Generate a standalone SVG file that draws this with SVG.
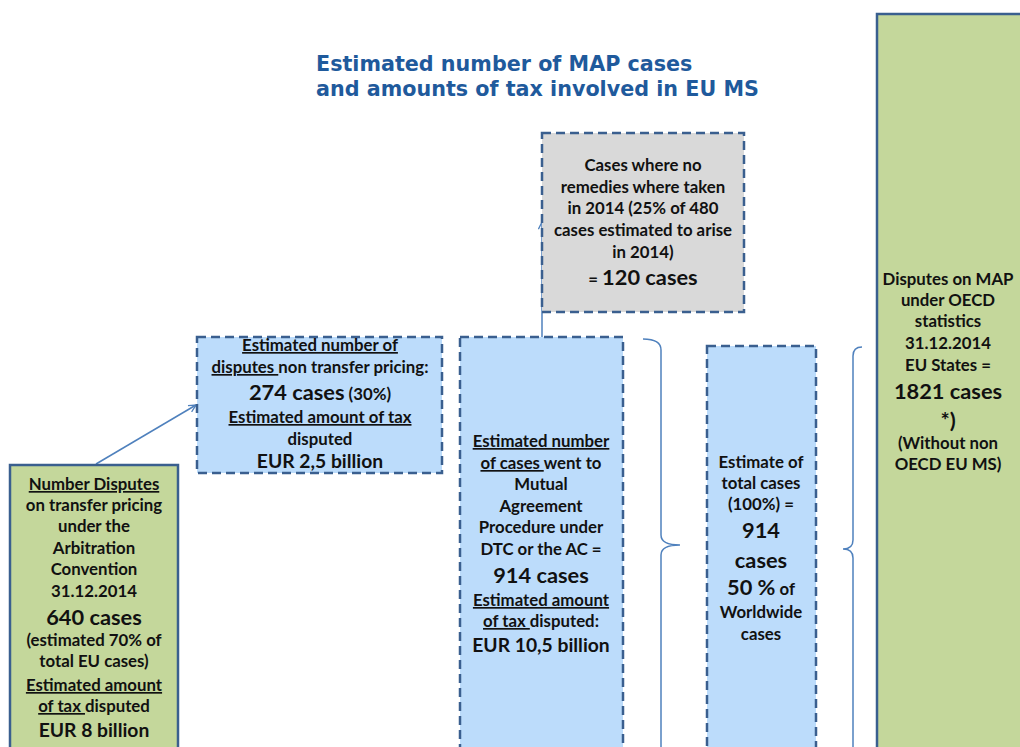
<svg xmlns="http://www.w3.org/2000/svg" width="1020" height="747" viewBox="0 0 1020 747">
<defs>
<style>
.title{font-family:"DejaVu Sans",Verdana,sans-serif;font-weight:bold;font-size:20.7px;fill:#1f5a9c}
.t{font-family:Lato,"Liberation Sans",sans-serif;font-weight:bold;font-size:16.8px;fill:#111;text-anchor:middle}
.b{font-size:21.8px}
.e{font-size:19.3px}
.u{text-decoration:underline}
.dash{fill:#bcdcfb;stroke:#3a5f8f;stroke-width:2.5;stroke-dasharray:9 5}
.grey{fill:#d9d9d9;stroke:#3a5f8f;stroke-width:2.5;stroke-dasharray:9 5}
.green{fill:#c4d79b;stroke:#3a5f8f;stroke-width:2.5}
.con{fill:none;stroke:#4f81bd;stroke-width:1.5}
</style>
<marker id="ah" viewBox="0 0 10 10" refX="9" refY="5" markerWidth="9" markerHeight="9" orient="auto" markerUnits="userSpaceOnUse">
<path d="M1,1 L9,5 L1,9" fill="none" stroke="#4f81bd" stroke-width="1.5"/>
</marker>
</defs>
<rect width="1020" height="747" fill="#fff"/>
<g id="title">
<text class="title" x="316" y="71">Estimated number of MAP cases</text>
<text class="title" x="316" y="96">and amounts of tax involved in EU MS</text>
</g>
<g id="connectors">
<line class="con" x1="96" y1="464" x2="196" y2="405" marker-end="url(#ah)"/>
<line class="con" x1="542" y1="337" x2="542" y2="222" marker-end="url(#ah)"/>
<path class="con" d="M643,339 Q661,339 661,350 L661,535 Q661,545 680,545 Q661,545 661,555 L661,760"/>
<path class="con" d="M862,347 Q853,347 853,356 L853,540 Q853,549 843,549 Q853,549 853,558 L853,760"/>
</g>
<g id="gray-box">
<rect class="grey" x="542" y="133" width="202" height="179"/>
<text class="t" x="643" y="171">Cases where no</text>
<text class="t" x="643" y="193">remedies where taken</text>
<text class="t" x="643" y="214">in 2014 (25% of 480</text>
<text class="t" x="643" y="236">cases estimated to arise</text>
<text class="t" x="643" y="258">in 2014)</text>
<text class="t" x="643" y="285">= <tspan class="b">120 cases</tspan></text>
</g>
<g id="non-tp-box">
<rect class="dash" x="197" y="337" width="245" height="136"/>
<text class="t" x="320" y="351"><tspan class="u">Estimated number of</tspan></text>
<text class="t" x="320" y="373"><tspan class="u">disputes </tspan>non transfer pricing:</text>
<text class="t" x="320" y="400"><tspan class="b">274 cases</tspan> (30%)</text>
<text class="t" x="320" y="423"><tspan class="u">Estimated amount of tax</tspan></text>
<text class="t" x="320" y="445">disputed</text>
<text class="t e" x="320" y="468">EUR 2,5 billion</text>
</g>
<g id="tp-box">
<rect class="green" x="10" y="465" width="168" height="300"/>
<text class="t" x="94" y="490"><tspan class="u">Number Disputes</tspan></text>
<text class="t" x="94" y="511">on transfer pricing</text>
<text class="t" x="94" y="532">under the</text>
<text class="t" x="94" y="554">Arbitration</text>
<text class="t" x="94" y="575">Convention</text>
<text class="t" x="94" y="597">31.12.2014</text>
<text class="t b" x="94" y="625">640 cases</text>
<text class="t" x="94" y="646">(estimated 70% of</text>
<text class="t" x="94" y="667">total EU cases)</text>
<text class="t" x="94" y="691"><tspan class="u">Estimated amount</tspan></text>
<text class="t" x="94" y="712"><tspan class="u">of tax </tspan>disputed</text>
<text class="t e" x="94" y="737">EUR 8 billion</text>
</g>
<g id="map-box">
<rect class="dash" x="460" y="337" width="163" height="430"/>
<text class="t" x="541" y="447"><tspan class="u">Estimated number</tspan></text>
<text class="t" x="541" y="469"><tspan class="u">of cases </tspan>went to</text>
<text class="t" x="541" y="490">Mutual</text>
<text class="t" x="541" y="512">Agreement</text>
<text class="t" x="541" y="533">Procedure under</text>
<text class="t" x="541" y="555">DTC or the AC =</text>
<text class="t b" x="541" y="583">914 cases</text>
<text class="t" x="541" y="606"><tspan class="u">Estimated amount</tspan></text>
<text class="t" x="541" y="627"><tspan class="u">of tax </tspan>disputed:</text>
<text class="t e" x="541" y="652">EUR 10,5 billion</text>
</g>
<g id="total-box">
<rect class="dash" x="707" y="346" width="109" height="420"/>
<text class="t" x="761" y="468">Estimate of</text>
<text class="t" x="761" y="489">total cases</text>
<text class="t" x="761" y="510">(100%) =</text>
<text class="t b" x="761" y="538">914</text>
<text class="t b" x="761" y="568">cases</text>
<text class="t" x="761" y="595"><tspan class="b">50 %</tspan> of</text>
<text class="t" x="761" y="618">Worldwide</text>
<text class="t" x="761" y="640">cases</text>
</g>
<g id="oecd-box">
<rect class="green" x="877" y="14" width="160" height="760"/>
<text class="t" x="948" y="285">Disputes on MAP</text>
<text class="t" x="948" y="306">under OECD</text>
<text class="t" x="948" y="327">statistics</text>
<text class="t" x="948" y="349">31.12.2014</text>
<text class="t" x="948" y="371">EU States =</text>
<text class="t b" x="948" y="399">1821 cases</text>
<text class="t b" x="948" y="428">*)</text>
<text class="t" x="948" y="449">(Without non</text>
<text class="t" x="948" y="470">OECD EU MS)</text>
</g>
</svg>
